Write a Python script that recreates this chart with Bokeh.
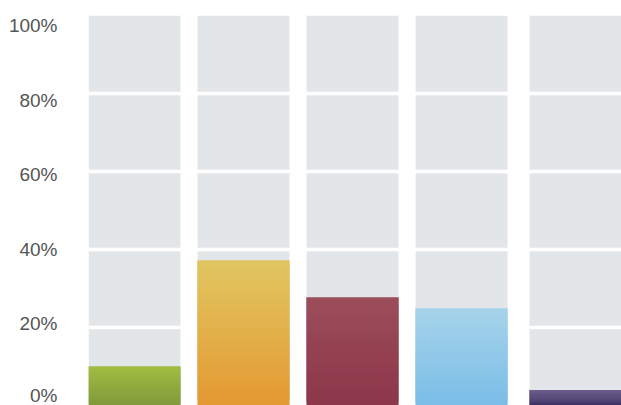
from bokeh.plotting import figure
from bokeh.models import FactorRange, Range1d, LinearAxis, FixedTicker, CustomJSTickFormatter
from bokeh.embed import file_html
from bokeh.resources import INLINE

# ---- data ----
groups = ["main", "main", "main", "main", "other"]
categories = ["A", "B", "C", "D", "E"]
values = [10.0, 37.2, 27.7, 24.9, 4.0]
top_colors = ["#a1bd42", "#e0c560", "#9c4d5a", "#a6d3ea", "#6e5d8c"]
bottom_colors = ["#809a3a", "#e49a33", "#8c364a", "#7abde7", "#3b3264"]
tick_values = [0, 20, 40, 60, 80, 100]
grid_values = [20, 40, 60, 80]

factors = list(zip(groups, categories))

p = figure(width=621, height=405, output_backend="svg", toolbar_location=None,
           x_range=FactorRange(*factors, factor_padding=0.185, group_padding=0.239, range_padding=0),
           y_range=Range1d(0, 100),
           x_axis_location=None, y_axis_location=None,
           min_border_left=88, min_border_right=0, min_border_top=15, min_border_bottom=0,
           background_fill_color="white", border_fill_color="white", outline_line_color=None)
p.xgrid.visible = False
p.ygrid.visible = False

# background columns (0-100%)
p.vbar(x=factors, top=[100] * len(factors), bottom=0, width=1.0,
       fill_color="#e3e6e9", line_color=None)

# white grid lines over the background columns
p.hspan(y=grid_values, line_color="white", line_width=3.5)


def hex2rgb(h):
    h = h.lstrip("#")
    return tuple(int(h[i:i + 2], 16) for i in (0, 2, 4))


def mix(c1, c2, t):
    a, b = hex2rgb(c1), hex2rgb(c2)
    return "#%02x%02x%02x" % tuple(round(a[i] + (b[i] - a[i]) * t) for i in range(3))


# value bars with vertical gradient (built from overlapping slices of each value)
N = 30
xs, bots, tops, cols = [], [], [], []
for f, v, ct, cb in zip(factors, values, top_colors, bottom_colors):
    for k in range(N):
        xs.append(f)
        bots.append(v * k / N)
        tops.append(min(v, v * (k + 2) / N))
        cols.append(mix(cb, ct, k / (N - 1)))
p.vbar(x=xs, bottom=bots, top=tops, width=1.0, fill_color=cols, line_color=None)

# y-axis labels (slightly offset label scale, as in the reference)
p.extra_y_ranges = {"lbl": Range1d(-1.88, 102.68)}
ax = LinearAxis(y_range_name="lbl", ticker=FixedTicker(ticks=tick_values),
                formatter=CustomJSTickFormatter(code="return tick + '%';"))
ax.axis_line_color = None
ax.major_tick_line_color = None
ax.minor_tick_line_color = None
ax.major_label_standoff = 25
ax.major_label_text_font = "Liberation Sans"
ax.major_label_text_font_size = "19px"
ax.major_label_text_color = "#555555"
p.add_layout(ax, "left")

open("out.html", "w").write(file_html(p, INLINE))
